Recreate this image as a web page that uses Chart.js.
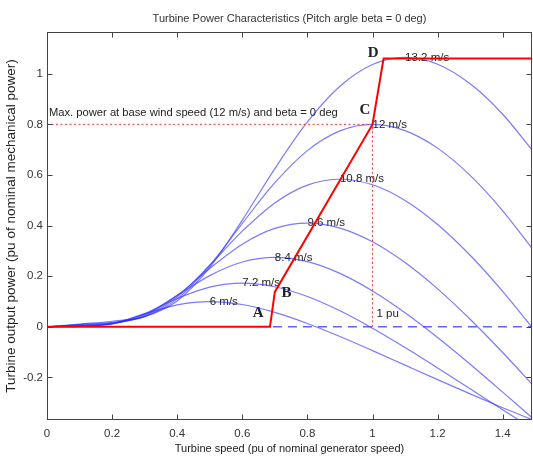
<!DOCTYPE html>
<html><head><meta charset="utf-8">
<style>html,body{margin:0;padding:0;background:#fff;overflow:hidden;}</style>
<script src="https://cdn.jsdelivr.net/npm/chart.js@4.4.1/dist/chart.umd.min.js"></script>
</head><body>
<canvas id="c" width="533" height="457"></canvas>
<script>
// ---- data ----
const speeds = [0, 0.1, 0.2, 0.3, 0.4, 0.5, 0.6, 0.7, 0.8, 0.9, 1.0, 1.1, 1.2, 1.3, 1.4, 1.5];
const p6    = [0, 0.0023, 0.0138, 0.0511, 0.0870, 0.1000, 0.0883, 0.0573, 0.0135, -0.0381, -0.0939, -0.1513, -0.2086, -0.2649, -0.3194, -0.3718];
const p7_2  = [0, 0.0033, 0.0121, 0.0525, 0.1120, 0.1572, 0.1728, 0.1585, 0.1199, 0.0634, -0.0053, -0.0816, -0.1623, -0.2448, -0.3276, -0.4094];
const p8_4  = [0, 0.0045, 0.0119, 0.0489, 0.1238, 0.2024, 0.2562, 0.2744, 0.2576, 0.2112, 0.1419, 0.0558, -0.0421, -0.1476, -0.2577, -0.3699];
const p9_6  = [0, 0.0059, 0.0131, 0.0443, 0.1245, 0.2309, 0.3267, 0.3889, 0.4096, 0.3903, 0.3362, 0.2540, 0.1502, 0.0302, -0.1013, -0.2405];
const p10_8 = [0, 0.0074, 0.0156, 0.0409, 0.1187, 0.2434, 0.3780, 0.4896, 0.5599, 0.5832, 0.5613, 0.4995, 0.4046, 0.2829, 0.1403, -0.0179];
const p12   = [0, 0.0092, 0.0183, 0.0398, 0.1105, 0.2432, 0.4090, 0.5695, 0.6962, 0.7742, 0.8000, 0.7755, 0.7062, 0.5983, 0.4587, 0.2933];
const p13_2 = [0, 0.0111, 0.0222, 0.0410, 0.1025, 0.2347, 0.4219, 0.6253, 0.8095, 0.9505, 1.0364, 1.0648, 1.0377, 0.9605, 0.8401, 0.6826];
const windLabels = ['6 m/s', '7.2 m/s', '8.4 m/s', '9.6 m/s', '10.8 m/s', '12 m/s', '13.2 m/s'];
const powerSeries = [p6, p7_2, p8_4, p9_6, p10_8, p12, p13_2];

const mpptSpeed = [0, 0.685, 0.70, 1.0, 1.034, 1.49];
const mpptPower = [0, 0, 0.138, 0.8, 1.06, 1.06];
const zeroSpeed = [0.694, 1.49];
const zeroPower = [0, 0];
const baseHSpeed = [0, 1.0];
const baseHPower = [0.8, 0.8];
const baseVSpeed = [1.0, 1.0];
const baseVPower = [0, 0.8];

const xTickValues = [0, 0.2, 0.4, 0.6, 0.8, 1, 1.2, 1.4];
const yTickValues = [-0.2, 0, 0.2, 0.4, 0.6, 0.8, 1];

const titleText = 'Turbine Power Characteristics (Pitch argle beta = 0 deg)';
const xTitle = 'Turbine speed (pu of nominal generator speed)';
const yTitle = 'Turbine output power (pu of nominal mechanical power)';
const noteText = 'Max. power at base wind speed (12 m/s) and beta = 0 deg';
const puText = '1 pu';
const pointLetters = ['A', 'B', 'C', 'D'];

// ---- presentation ----
const SANS = "'Liberation Sans', Arial, sans-serif";
const SERIF = "'Liberation Serif', 'Times New Roman', serif";
const letterPos = [[0.649, 0.053], [0.736, 0.132], [0.977, 0.858], [1.002, 1.082]];
const notePos = [0.006, 0.846];
const puPos = [1.012, 0.05];

const toXY = (xs, ys) => xs.map((x, i) => ({x: x, y: ys[i]}));

const datasets = [];
datasets.push({data: toXY(mpptSpeed, mpptPower), borderColor: '#ff0000', borderWidth: 2, order: 0, tension: 0});
datasets.push({data: toXY(baseHSpeed, baseHPower), borderColor: '#ff3a3a', borderWidth: 1, borderDash: [2, 2.5], order: 1});
datasets.push({data: toXY(baseVSpeed, baseVPower), borderColor: '#ff3a3a', borderWidth: 1, borderDash: [2, 2.5], order: 1});
datasets.push({data: toXY(zeroSpeed, zeroPower), borderColor: 'rgba(70,70,255,0.85)', borderWidth: 1.5, borderDash: [9, 6], order: 2});
powerSeries.forEach((s, i) => {
  datasets.push({label: windLabels[i], data: toXY(speeds, s), borderColor: 'rgba(40,40,255,0.62)', borderWidth: 1.2,
    cubicInterpolationMode: 'monotone', order: 3});
});

const fmt = v => String(+Number(v).toFixed(2));

const textPlugin = {
  id: 'textAnnots',
  beforeDatasetsDraw(chart) {
    const {ctx, scales: {x, y}} = chart;
    ctx.save();
    ctx.fillStyle = '#222';
    ctx.textBaseline = 'middle';
    ctx.textAlign = 'left';
    ctx.font = '11.5px ' + SANS;
    powerSeries.forEach((s, i) => {
      let k = 0;
      s.forEach((v, j) => { if (v > s[k]) k = j; });
      ctx.fillText(windLabels[i], x.getPixelForValue(speeds[k]), y.getPixelForValue(s[k]));
    });
    ctx.font = '11.2px ' + SANS;
    ctx.fillText(noteText, x.getPixelForValue(notePos[0]), y.getPixelForValue(notePos[1]));
    ctx.font = '11.5px ' + SANS;
    ctx.fillText(puText, x.getPixelForValue(puPos[0]), y.getPixelForValue(puPos[1]));
    ctx.font = 'bold 15px ' + SERIF;
    ctx.textAlign = 'center';
    pointLetters.forEach((t, i) => {
      ctx.fillText(t, x.getPixelForValue(letterPos[i][0]), y.getPixelForValue(letterPos[i][1]));
    });
    ctx.restore();
  }
};

const boxPlugin = {
  id: 'matlabBox',
  afterDatasetsDraw(chart) {
    const {ctx, chartArea: a, scales: {x, y}} = chart;
    ctx.save();
    ctx.strokeStyle = '#444';
    ctx.lineWidth = 1;
    const L = Math.round(a.left) + 0.5, R = Math.round(a.right) - 0.5;
    const T = Math.round(a.top) + 0.5, B = Math.round(a.bottom) - 0.5;
    ctx.strokeRect(L, T, R - L, B - T);
    ctx.beginPath();
    xTickValues.forEach(v => {
      const px = Math.round(x.getPixelForValue(v)) + 0.5;
      ctx.moveTo(px, B); ctx.lineTo(px, B - 5);
      ctx.moveTo(px, T); ctx.lineTo(px, T + 5);
    });
    yTickValues.forEach(v => {
      const py = Math.round(y.getPixelForValue(v)) + 0.5;
      ctx.moveTo(L, py); ctx.lineTo(L + 5, py);
      ctx.moveTo(R, py); ctx.lineTo(R - 5, py);
    });
    ctx.stroke();
    ctx.restore();
  }
};

new Chart(document.getElementById('c'), {
  type: 'scatter',
  data: {datasets: datasets},
  options: {
    responsive: false,
    animation: false,
    devicePixelRatio: 1,
    showLine: true,
    elements: {point: {radius: 0, hoverRadius: 0}, line: {fill: false}},
    layout: {padding: {left: 0, right: 1, top: 0, bottom: 0}},
    plugins: {
      legend: {display: false},
      tooltip: {enabled: false},
      title: {display: true, fullSize: false, text: titleText, color: '#333', font: {family: SANS, size: 11, weight: 'normal'}, padding: {top: 12, bottom: 6.8}}
    },
    scales: {
      x: {
        type: 'linear', min: 0, max: 1.49,
        grid: {display: false, drawTicks: false},
        border: {display: false},
        afterBuildTicks: s => { s.ticks = xTickValues.map(v => ({value: v})); },
        afterFit: s => { s.height = 37; },
        ticks: {padding: 7, color: '#333', font: {family: SANS, size: 11.5}, callback: v => fmt(v), maxRotation: 0, autoSkip: false},
        title: {display: true, text: xTitle, color: '#222', font: {family: SANS, size: 11}, padding: {top: 0, bottom: 1.5}}
      },
      y: {
        type: 'linear', min: -0.368, max: 1.165,
        grid: {display: false, drawTicks: false},
        border: {display: false},
        afterBuildTicks: s => { s.ticks = yTickValues.map(v => ({value: v})); },
        afterFit: s => { s.width = 47; },
        ticks: {padding: 4, color: '#333', font: {family: SANS, size: 11.5}, callback: v => fmt(v), autoSkip: false},
        title: {display: true, text: yTitle, color: '#222', font: {family: SANS, size: 13.5}, padding: {top: 3.6, bottom: 0}}
      }
    }
  },
  plugins: [textPlugin, boxPlugin]
});
</script>
</body></html>
